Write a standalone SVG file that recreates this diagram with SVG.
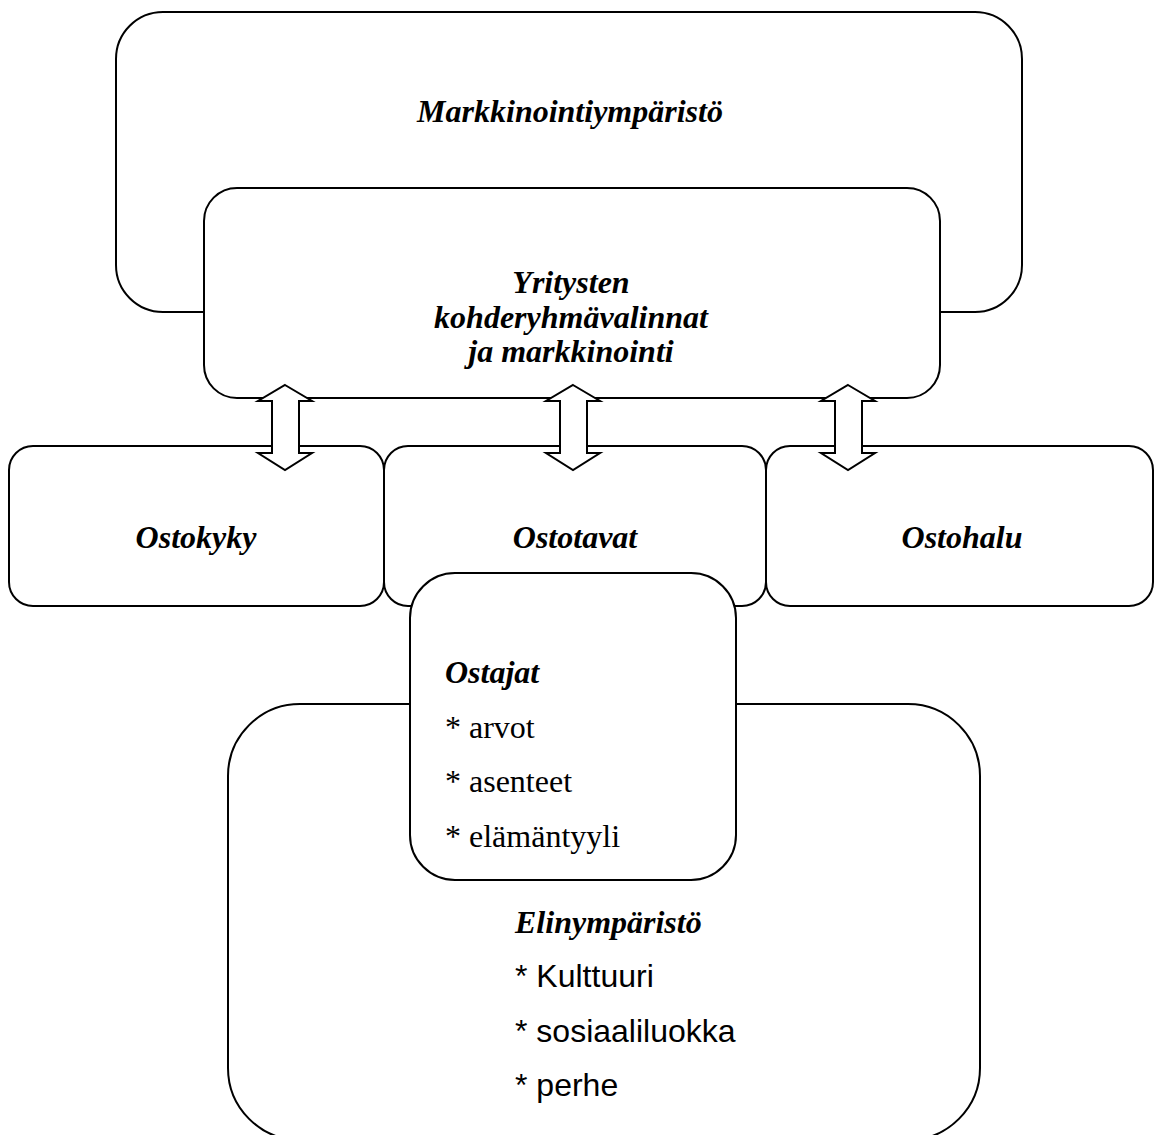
<svg xmlns="http://www.w3.org/2000/svg" width="1155" height="1135" viewBox="0 0 1155 1135">
<style>
.box{fill:#fff;stroke:#000;stroke-width:2}
.arrow{fill:#fff;stroke:#000;stroke-width:2;stroke-linejoin:miter}
.bi{font-family:"Liberation Serif","Times New Roman",serif;font-weight:bold;font-style:italic;font-size:32px;fill:#000}
.sr{font-family:"Liberation Serif","Times New Roman",serif;font-size:32px;fill:#000}
.ss{font-family:"Liberation Sans",Arial,sans-serif;font-size:32px;fill:#000}
</style>
<rect width="1155" height="1135" fill="#fff"/>
<g id="markkinointiymparisto">
<rect class="box" x="116" y="12" width="906" height="300" rx="47" ry="47"/>
<text class="bi" x="570" y="122" text-anchor="middle">Markkinointiympäristö</text>
</g>
<g id="yritysten">
<rect class="box" x="204" y="188" width="736" height="210" rx="33" ry="33"/>
<text class="bi" x="571" y="293" text-anchor="middle">Yritysten</text>
<text class="bi" x="571" y="328" text-anchor="middle">kohderyhmävalinnat</text>
<text class="bi" x="571" y="362" text-anchor="middle">ja markkinointi</text>
</g>
<g id="ostokyky">
<rect class="box" x="9" y="446" width="375" height="160" rx="24" ry="24"/>
<text class="bi" x="196" y="548" text-anchor="middle">Ostokyky</text>
</g>
<g id="ostotavat">
<rect class="box" x="384" y="446" width="382" height="160" rx="24" ry="24"/>
<text class="bi" x="575" y="548" text-anchor="middle">Ostotavat</text>
</g>
<g id="ostohalu">
<rect class="box" x="766" y="446" width="387" height="160" rx="24" ry="24"/>
<text class="bi" x="962" y="548" text-anchor="middle">Ostohalu</text>
</g>
<g id="elinymparisto">
<rect class="box" x="228" y="704" width="752" height="436" rx="72" ry="72"/>
<text class="bi" x="515" y="933">Elinympäristö</text>
<text class="ss" x="515" y="987">* Kulttuuri</text>
<text class="ss" x="515" y="1042">* sosiaaliluokka</text>
<text class="ss" x="515" y="1096">* perhe</text>
</g>
<g id="ostajat">
<rect class="box" x="410" y="573" width="326" height="307" rx="45" ry="45"/>
<text class="bi" x="445" y="683">Ostajat</text>
<text class="sr" x="445" y="738">* arvot</text>
<text class="sr" x="445" y="792">* asenteet</text>
<text class="sr" x="445" y="847">* elämäntyyli</text>
</g>
<g id="connectors">
<polygon class="arrow" points="285,385 312,401 299,401 299,453 312,453 285,470 258,453 272,453 272,401 258,401"/>
<polygon class="arrow" points="573,385 600,401 587,401 587,453 600,453 573,470 546,453 560,453 560,401 546,401"/>
<polygon class="arrow" points="848,385 875,401 862,401 862,453 875,453 848,470 821,453 835,453 835,401 821,401"/>
</g>
</svg>
